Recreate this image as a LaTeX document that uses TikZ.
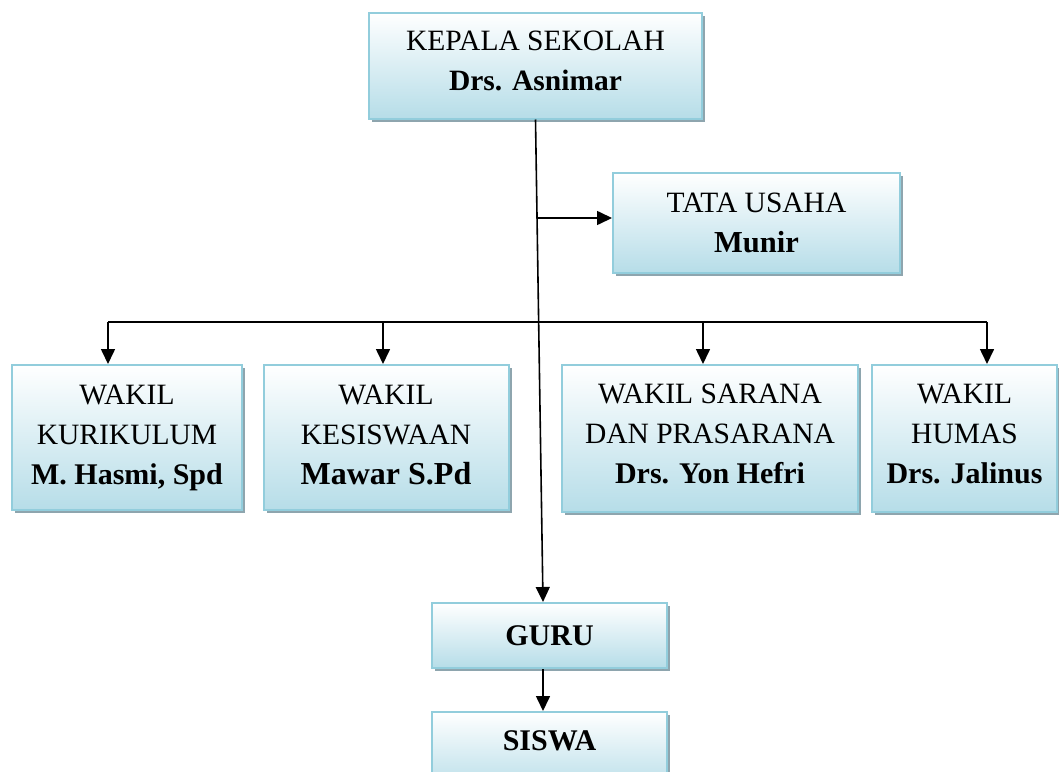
\documentclass[tikz,border=0pt]{standalone}
\usepackage{fontspec}
\setmainfont{Liberation Serif}
\usetikzlibrary{arrows.meta,shadows,calc}
\definecolor{bordercol}{HTML}{92CDDC}
\definecolor{boxblue}{HTML}{B6DDE8}
\definecolor{shadowcol}{HTML}{8EA5AE}
\begin{document}
\begin{tikzpicture}[x=1pt,y=-1pt,
  box/.style={draw=bordercol, line width=2pt, top color=white, bottom color=boxblue,
    drop shadow={shadow xshift=3pt,shadow yshift=-3pt,fill=shadowcol,opacity=1},
    align=center, inner sep=0pt, font=\fontsize{29.5}{40}\selectfont},
  conn/.style={line width=1.6pt, -{Triangle[width=14pt,length=15pt]}},
  wire/.style={line width=1.6pt}]
\useasboundingbox (0,0) rectangle (1059,771);

\node[box, minimum width=333, minimum height=106] (kepala) at (535.5,65.5)
  {KEPALA SEKOLAH\\\textbf{Drs. Asnimar}\\[-30pt]\mbox{}};
\node[box, minimum width=287, minimum height=100] (tata) at (756.5,223)
  {TATA USAHA\\{\fontsize{30.5}{40}\selectfont\textbf{Munir}}};
\node[box, minimum width=230, minimum height=145] (kur) at (127,437.5)
  {WAKIL\\KURIKULUM\\{\fontsize{30}{40}\selectfont\textbf{M. Hasmi, Spd}}};
\node[box, minimum width=245, minimum height=145] (kes) at (386,437.5)
  {WAKIL\\KESISWAAN\\{\fontsize{32}{40}\selectfont\textbf{Mawar S.Pd}}\\[-34pt]\mbox{}};
\node[box, minimum width=296, minimum height=147] (sar) at (710,438.5)
  {WAKIL SARANA\\DAN PRASARANA\\{\fontsize{30}{40}\selectfont\textbf{Drs. Yon Hefri}}\\[-30pt]\mbox{}};
\node[box, minimum width=185, minimum height=147] (hum) at (964.5,438.5)
  {WAKIL\\HUMAS\\{\fontsize{30}{40}\selectfont\textbf{Drs. Jalinus}}\\[-30pt]\mbox{}};
\node[box, minimum width=235, minimum height=65] (guru) at (549.5,635.5)
  {\fontsize{30}{40}\selectfont\textbf{GURU}};
\node[box, minimum width=235, minimum height=80, text depth=22pt] (siswa) at (549.5,752)
  {\fontsize{30}{40}\selectfont\textbf{SISWA}};

\coordinate (gtop) at ($(guru.north)+(-6.5,0)$);
\coordinate (gbot) at ($(guru.south)+(-6.5,0)$);
\coordinate (stop) at ($(siswa.north)+(-6.5,0)$);
\draw[conn] (kepala.south) -- (gtop);

\coordinate (tu) at (537,218);
\draw[conn] (tu) -- (tu -| tata.west);

\coordinate (bl) at (108,322);
\coordinate (b2) at (383,322);
\coordinate (b3) at (703,322);
\coordinate (br) at (987,322);
\draw[wire] (bl) -- (br);
\draw[conn] (bl) -- (bl |- kur.north);
\draw[conn] (b2) -- (b2 |- kes.north);
\draw[conn] (b3) -- (b3 |- sar.north);
\draw[conn] (br) -- (br |- hum.north);

\draw[conn] (gbot) -- (stop);
\end{tikzpicture}
\end{document}
